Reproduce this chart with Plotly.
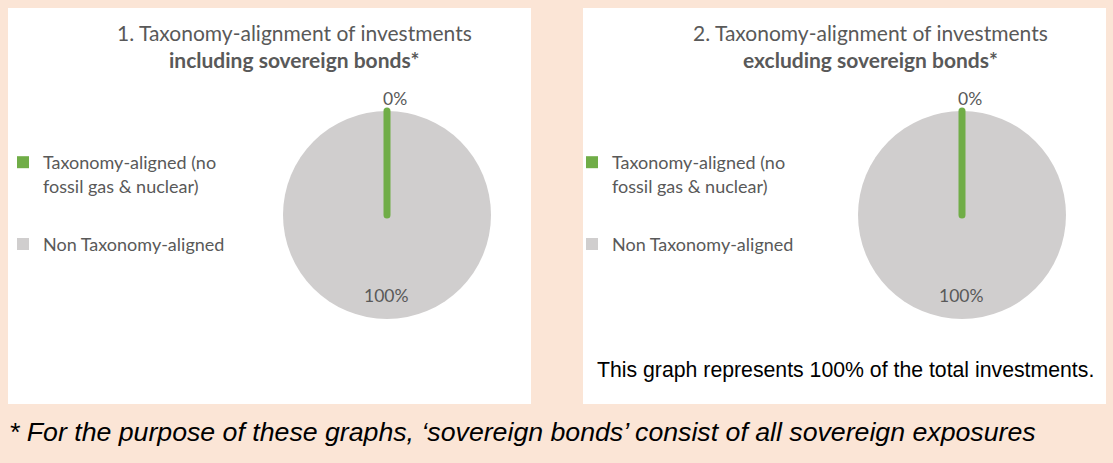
import plotly.graph_objects as go

# chart data
categories = ["Taxonomy-aligned (no<br>fossil gas & nuclear)", "Non Taxonomy-aligned"]
incl_sovereign = [0, 100]
excl_sovereign = [0, 100]
colors = ["#70AD47", "#D0CECE"]

titles = [
    ("1. Taxonomy-alignment of investments", "including sovereign bonds*"),
    ("2. Taxonomy-alignment of investments", "excluding sovereign bonds*"),
]
note = "This graph represents 100% of the total investments."
footnote = "* For the purpose of these graphs, \u2018sovereign bonds\u2019 consist of all sovereign exposures"

W, H = 1113, 463
def fx(x):
    return x / W
def fy(y):
    return 1 - y / H

GREY = "#595959"
CAL = "Lato, Carlito, Calibri, sans-serif"
ARIAL = "Arial, Liberation Sans, sans-serif"

fig = go.Figure()

# panels: white box, pie left edge, legend x, title centre
panels = [
    dict(x0=8, x1=531, pie=283, leg=3, tc=294, legend="legend"),
    dict(x0=583, x1=1106, pie=858, leg=572, tc=870, legend="legend2"),
]
series = [incl_sovereign, excl_sovereign]
# label spots (px) for each slice: aligned on top, rest near the bottom
label_pos = [(395, 98), (386, 295)]

for p, vals, (t1, t2) in zip(panels, series, titles):
    fig.add_shape(type="rect", xref="paper", yref="paper",
                  x0=fx(p["x0"]), x1=fx(p["x1"]), y0=fy(404), y1=fy(8),
                  fillcolor="white", line_width=0, layer="below")
    # big slice first so the empty slice's outline is drawn on top of it
    fig.add_trace(go.Pie(
        labels=categories[::-1], values=vals[::-1],
        marker=dict(colors=colors[::-1],
                    line=dict(color=colors[::-1], width=[0, 7])),
        sort=False, direction="clockwise", rotation=0, textinfo="none",
        domain=dict(x=[fx(p["pie"]), fx(p["pie"] + 208)], y=[fy(319), fy(111)]),
        showlegend=False, hoverinfo="label+percent",
    ))
    # legend entries (marker-only traces, nothing plotted)
    for i, (cat, col) in enumerate(zip(categories, colors)):
        fig.add_trace(go.Scatter(
            x=[None], y=[None], mode="markers", name=cat,
            marker=dict(symbol="square", size=12, color=col),
            legend=p["legend"], legendgroup=f"{p['legend']}{i}",
        ))
    total = sum(vals)
    for v, (lx, ly) in zip(vals, label_pos):
        fig.add_annotation(text=f"{v / total:.0%}", xref="paper", yref="paper",
                           x=fx(lx + p["pie"] - 283), y=fy(ly), xanchor="center", yanchor="middle",
                           showarrow=False, font=dict(family=CAL, size=17.5, color=GREY))
    fig.add_annotation(text=t1, xref="paper", yref="paper", x=fx(p["tc"]), y=fy(33),
                       xanchor="center", yanchor="middle",
                       showarrow=False, font=dict(family=CAL, size=21, color=GREY))
    fig.add_annotation(text=f"<b>{t2}</b>", xref="paper", yref="paper", x=fx(p["tc"]), y=fy(60),
                       xanchor="center", yanchor="middle",
                       showarrow=False, font=dict(family=CAL, size=21, color=GREY))

fig.add_annotation(text=note, xref="paper", yref="paper", x=fx(595), y=fy(370),
                   xanchor="left", yanchor="middle", showarrow=False,
                   font=dict(family=ARIAL, size=21.25, color="black"))
fig.add_annotation(text=f"<i>{footnote}</i>", xref="paper", yref="paper", x=fx(7), y=fy(432),
                   xanchor="left", yanchor="middle", showarrow=False,
                   font=dict(family=ARIAL, size=26.7, color="black"))

legend_style = dict(font=dict(family=CAL, size=18, color=GREY), bgcolor="rgba(0,0,0,0)",
                    valign="top", yanchor="top", xanchor="left", tracegroupgap=32)
fig.update_layout(
    width=W, height=H, margin=dict(l=0, r=0, t=0, b=0),
    paper_bgcolor="#FBE5D6", plot_bgcolor="rgba(0,0,0,0)",
    showlegend=True,
    xaxis=dict(visible=False), yaxis=dict(visible=False),
    legend=dict(x=fx(panels[0]["leg"]), y=fy(144), **legend_style),
    legend2=dict(x=fx(panels[1]["leg"]), y=fy(144), **legend_style),
)

fig.write_html("out.html", config={"displayModeBar": False},
               post_script="document.body.style.margin='0px';")
